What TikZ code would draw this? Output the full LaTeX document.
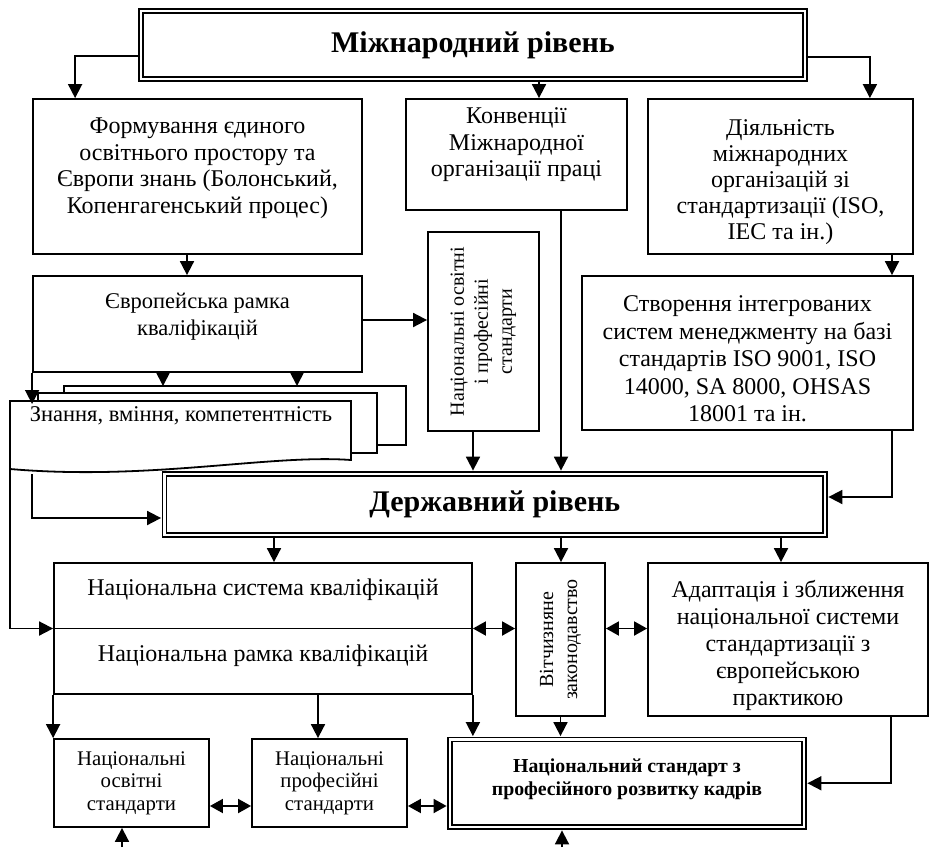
\documentclass[tikz,border=0pt]{standalone}
\usepackage{fontspec}
\setmainfont{Liberation Serif}
\usetikzlibrary{arrows.meta}

\begin{document}
\begin{tikzpicture}[x=1pt,y=-1pt,
	box/.style={draw, line width=1.8pt, inner sep=0pt, align=center},
	dbox/.style={draw, line width=1.6pt, double, double distance=2.4pt, inner sep=0pt, align=center},
	txt/.style={align=center, inner sep=0pt},
	big/.style={font=\fontsize{24}{26.5}\selectfont},
	small/.style={font=\fontsize{20.8}{22.5}\selectfont},
	level/.style={font=\bfseries\fontsize{30}{34}\selectfont},
	arr/.style={line width=1.8pt, -{Triangle[length=14pt,width=14pt]}},
	arrd/.style={arr, shorten >=2.6pt},
	darr/.style={line width=1.8pt, {Triangle[length=13pt,width=14pt]}-{Triangle[length=13pt,width=14pt]}}]
	\useasboundingbox (0,0) rectangle (929,847);
	\node[dbox, level, minimum width=664, minimum height=68] (mr) at (473,45) {Міжнародний рівень};
	\node[box, minimum width=329, minimum height=155] (f1) at (197.5,176.5) {};
	\node[txt, big] (f1t) at (197.5,168) {Формування єдиного\\освітнього простору та\\Європи знань (Болонський,\\Копенгагенський процес)};
	\node[box, minimum width=221, minimum height=111] (f2) at (516.5,154.5) {};
	\node[txt, big] (f2t) at (516.5,145) {Конвенції\\Міжнародної\\організації праці};
	\node[box, minimum width=265, minimum height=155] (f3) at (780.5,176.5) {};
	\node[txt, font=\fontsize{24}{26}\selectfont] (f3t) at (780.5,182.5) {Діяльність\\міжнародних\\організацій зі\\стандартизації (ISO,\\IEC та ін.)};
	\node[box, minimum width=329, minimum height=96] (evr) at (197.5,324) {};
	\node[txt, font=\fontsize{22.5}{27}\selectfont] (evrt) at (197.5,317) {Європейська рамка\\кваліфікацій};
	\node[box, minimum width=111, minimum height=199] (nops) at (483.5,331.5) {};
	\node[txt, rotate=90, font=\fontsize{20}{24}\selectfont] (nopst) at (nops) {Національні освітні\\і професійні\\стандарти};
	\node[box, minimum width=331, minimum height=154] (stv) at (747.5,353) {};
	\node[txt, font=\fontsize{24}{27.5}\selectfont] (stvt) at (747.5,359) {Створення інтегрованих\\систем менеджменту на базі\\стандартів ISO 9001, ISO\\14000, SA 8000, OHSAS\\18001 та ін.};
	% знання, вміння, компетентність
	\draw[line width=1.8pt, fill=white] (64,386) -- (406,386) -- (406,445) -- (64,445) -- cycle;
	\draw[line width=1.8pt, fill=white] (38,393) -- (377,393) -- (377,453) -- (38,453) -- cycle;
	\draw[line width=1.8pt, fill=white] (10,401) -- (351,401) -- (351,460) .. controls (270,454) and (150,481) .. (10,469) -- cycle;
	\node[txt, font=\fontsize{22.5}{26}\selectfont] (kn) at (181,416) {Знання, вміння, компетентність};
	\coordinate (kb) at (64,386);
	\coordinate (kt) at (33,404);
	\coordinate (kl) at (10,469);
	\coordinate (kd) at (32,474);
	\node[dbox, level, minimum width=660.5, minimum height=61] (dr) at (494.75,504.5) {Державний рівень};
	\node[box, minimum width=418, minimum height=131] (nsk) at (263,628.5) {};
	\draw[line width=1.8pt] (nsk.west) -- (nsk.east);
	\node[txt, big] (nskt) at (263,590) {Національна система кваліфікацій};
	\node[txt, big] (nrkt) at (263,656) {Національна рамка кваліфікацій};
	\node[box, minimum width=89, minimum height=153] (vz) at (560.5,639.5) {};
	\node[txt, rotate=90, font=\fontsize{20}{24}\selectfont] (vzt) at (vz) {Вітчизняне\\законодавство};
	\node[box, minimum width=280, minimum height=153] (ad) at (788,639.5) {};
	\node[txt, font=\fontsize{24}{27}\selectfont] (adt) at (788,645) {Адаптація і зближення\\національної системи\\стандартизації з\\європейською\\практикою};
	\node[box, small, minimum width=155, minimum height=88] (nos) at (131.5,783) {Національні\\освітні\\стандарти};
	\node[box, small, minimum width=155, minimum height=88] (nps) at (329.5,783) {Національні\\професійні\\стандарти};
	\node[dbox, minimum width=354, minimum height=87.5] (ns) at (627,783.25) {};
	\node[txt, font=\bfseries\fontsize{19.8}{23}\selectfont] (nst) at (627,779) {Національний стандарт з\\професійного розвитку кадрів};
	\coordinate (b1) at (122,847);
	\coordinate (b2) at (562,847);

	\draw[arr] ([yshift=-11pt]mr.west) -| ([xshift=43pt]f1.north west);
	\draw[arr] ([xshift=66pt]mr.south) -- ([xshift=66pt]mr.south |- f2.north);
	\draw[arr] ([yshift=-12pt]mr.east) -| ([xshift=-44pt]f3.north east);
	\draw[arr] ([xshift=-10.5pt]f1.south) -- ([xshift=-10.5pt]f1.south |- evr.north);
	\draw[arr] ([yshift=4pt]evr.east) -- ([yshift=4pt]evr.east -| nops.west);
	\draw[arr] ([xshift=-34.5pt]evr.south) -- ([xshift=-34.5pt]evr.south |- kb);
	\draw[arr] ([xshift=99.5pt]evr.south) -- ([xshift=99.5pt]evr.south |- kb);
	\draw[arr] (evr.south west) -- (evr.south west |- kt);
	\draw[arrd] ([xshift=-10.5pt]nops.south) -- ([xshift=-10.5pt]nops.south |- dr.north);
	\draw[arrd] ([xshift=44.5pt]f2.south) -- ([xshift=44.5pt]f2.south |- dr.north);
	\draw[arr] ([xshift=111.5pt]f3.south) -- ([xshift=111.5pt]f3.south |- stv.north);
	\draw[arrd] ([xshift=144.5pt]stv.south) |- ([yshift=7.5pt]dr.east);
	\draw[arrd] (kd) |- ([yshift=-13.5pt]dr.west);
	\draw[arr] (kl) |- (nsk.west);
	\draw[arr] ([xshift=-220.75pt]dr.south) -- ([xshift=-220.75pt]dr.south |- nsk.north);
	\draw[arr] ([xshift=66.25pt]dr.south) -- ([xshift=66.25pt]dr.south |- vz.north);
	\draw[arr] ([xshift=286.25pt]dr.south) -- ([xshift=286.25pt]dr.south |- ad.north);
	\draw[darr] (nsk.east) -- (nsk.east -| vz.west);
	\draw[darr] (vz.east |- nsk.east) -- (ad.west |- nsk.east);
	\draw[arr] (nsk.south west) -- (nos.north west);
	\draw[arr] ([xshift=55pt]nsk.south) -- ([xshift=55pt]nsk.south |- nps.north);
	\draw[arrd] (nsk.south east) -- (nsk.south east |- ns.north);
	\draw[arrd] (vz.south) -- (vz.south |- ns.north);
	\draw[arrd] ([xshift=103pt]ad.south) |- (ns.east);
	\draw[darr] ([yshift=-23pt]nos.east) -- ([yshift=-23pt]nos.east -| nps.west);
	\draw[darr, shorten >=2.6pt] ([yshift=-23pt]nps.east) -- ([yshift=-23pt]nps.east -| ns.west);
	\draw[arr] (b1) -- (b1 |- nos.south);
	\draw[arrd] (b2) -- (b2 |- ns.south);
\end{tikzpicture}
\end{document}
